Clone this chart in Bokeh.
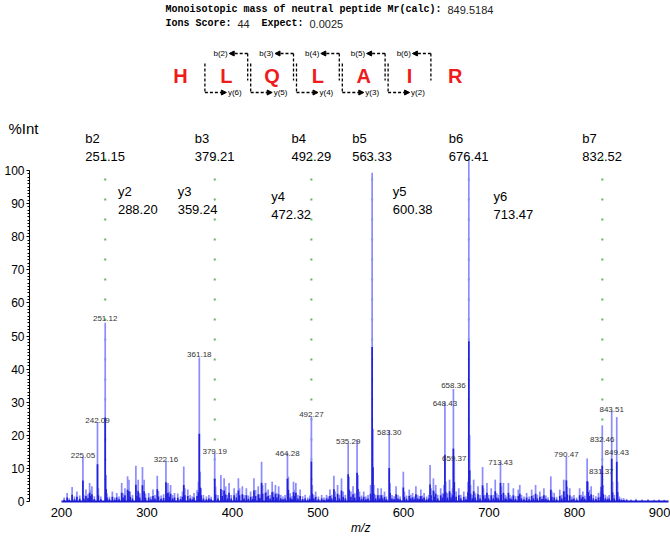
from bokeh.plotting import figure
from bokeh.models import Range1d, ColumnDataSource, Arrow, NormalHead, FixedTicker
from bokeh.embed import file_html
from bokeh.resources import INLINE
from bokeh.core.properties import value

# ---------------- data ----------------
peptide = ["H", "L", "Q", "L", "A", "I", "R"]
mr_calc = "849.5184"
ions_score = "44"
expect_value = "0.0025"
diagram_b = [2, 3, 4, 5, 6]
diagram_y = [6, 5, 4, 3, 2]

b_names = ["b2", "b3", "b4", "b5", "b6", "b7"]
b_mz = [251.15, 379.21, 492.29, 563.33, 676.41, 832.52]
y_names = ["y2", "y3", "y4", "y5", "y6"]
y_mz = [288.20, 359.24, 472.32, 600.38, 713.47]

scan_range = [200, 910]
x_ticks = [200, 300, 400, 500, 600, 700, 800, 900]
y_ticks = [0, 10, 20, 30, 40, 50, 60, 70, 80, 90, 100]

peak_mz = [203.1, 206.6, 209.0, 212.4, 215.2, 218.0, 221.3, 225.05, 226.1, 228.6, 231.0, 232.9, 234.0, 235.6,
           238.4, 242.09, 243.1, 246.0, 251.12, 252.1, 253.2, 256.0, 259.5, 262.2, 264.6, 267.3, 270.4, 272.0,
           274.2, 277.3, 278.9, 280.4, 283.0, 287.0, 288.2, 289.7, 291.5, 294.7, 296.6, 298.2, 302.0, 304.5,
           307.0, 309.3, 312.0, 313.4, 316.5, 319.4, 322.16, 323.2, 324.5, 326.0, 327.6, 330.0, 332.2, 336.0,
           339.3, 341.5, 343.0, 344.3, 347.7, 350.5, 353.0, 355.0, 358.6, 360.2, 361.18, 362.2, 363.3, 366.0,
           369.5, 372.4, 375.0, 379.19, 380.2, 383.0, 386.4, 388.0, 390.2, 392.0, 394.2, 396.0, 398.5, 401.9,
           404.5, 406.9, 408.2, 411.5, 413.5, 416.2, 418.5, 421.2, 423.5, 425.1, 427.0, 430.1, 432.0, 434.0,
           435.2, 438.6, 440.0, 441.7, 444.0, 446.4, 448.0, 450.2, 452.0, 454.0, 456.5, 459.0, 461.5, 464.28,
           465.3, 467.5, 469.5, 471.4, 472.3, 474.1, 476.5, 479.1, 482.0, 485.0, 488.0, 490.5, 492.27, 493.3,
           495.0, 497.3, 500.5, 504.3, 507.0, 510.0, 512.0, 514.0, 516.0, 518.6, 520.0, 522.9, 525.0, 527.5,
           529.5, 532.0, 535.29, 536.3, 538.5, 541.0, 543.0, 545.7, 546.7, 548.5, 551.0, 553.5, 556.0, 558.5,
           561.5, 563.33, 564.3, 565.3, 567.5, 570.0, 572.0, 573.9, 575.5, 577.8, 580.0, 583.30, 584.3, 586.5,
           589.0, 591.3, 593.5, 596.0, 599.8, 601.0, 603.5, 606.7, 608.5, 610.6, 612.5, 614.5, 616.5, 618.5,
           620.3, 622.0, 624.1, 627.0, 629.5, 631.1, 632.2, 635.0, 636.5, 637.7, 640.0, 643.5, 645.5, 647.4,
           648.43, 649.4, 651.5, 653.9, 655.5, 657.4, 658.36, 659.37, 661.5, 664.7, 667.0, 670.5, 673.0, 675.4,
           676.41, 677.4, 678.4, 680.5, 682.1, 684.0, 687.1, 689.5, 692.5, 693.5, 695.5, 697.6, 699.5, 702.6,
           705.0, 707.3, 709.0, 711.0, 713.43, 714.4, 716.9, 719.0, 720.5, 722.7, 724.5, 726.5, 728.5, 731.0,
           734.3, 736.0, 738.0, 741.0, 744.0, 747.0, 749.9, 752.0, 754.5, 756.5, 759.5, 762.0, 764.2, 766.5,
           769.0, 772.3, 773.5, 776.2, 779.0, 782.8, 785.0, 787.4, 788.6, 790.47, 791.5, 794.4, 797.0, 799.4,
           802.5, 806.0, 808.0, 809.8, 812.0, 814.8, 816.0, 817.5, 819.5, 822.0, 825.0, 828.0, 830.5, 831.37,
           832.46, 833.5, 836.0, 838.5, 840.5, 843.51, 844.5, 846.5, 849.43, 850.4, 852.5, 855.0, 857.6, 861.0,
           866.0, 872.0, 879.0, 886.0, 893.0, 899.0, 905.0]
peak_int = [1.2, 2.6, 1.0, 4.4, 1.5, 3.0, 1.8, 13.5, 2.0, 3.6, 2.2, 5.6, 3.5, 4.6,
            1.6, 24.0, 4.0, 1.5, 54.0, 8.0, 2.5, 1.4, 3.0, 1.2, 2.6, 1.5, 5.6, 2.5,
            4.0, 7.6, 6.6, 3.0, 2.0, 10.8, 3.5, 6.6, 2.5, 10.4, 6.6, 2.4, 2.6, 1.5,
            3.6, 2.0, 7.8, 3.2, 1.8, 2.2, 12.4, 5.0, 5.6, 3.0, 5.0, 2.0, 2.6, 2.4,
            1.6, 3.0, 10.6, 4.0, 3.6, 2.0, 1.5, 2.6, 3.5, 6.0, 43.5, 9.0, 4.0, 2.0,
            1.5, 2.0, 1.4, 14.7, 4.5, 2.0, 8.0, 3.5, 7.0, 4.5, 2.0, 5.6, 2.0, 4.0,
            2.5, 7.0, 4.0, 4.6, 2.0, 4.0, 1.8, 3.0, 1.6, 7.0, 3.5, 4.6, 2.2, 12.0,
            5.0, 5.6, 3.0, 3.6, 2.0, 6.0, 3.0, 5.0, 2.5, 4.6, 2.0, 1.5, 2.0, 14.7,
            7.5, 2.5, 1.6, 6.0, 3.5, 5.6, 2.0, 3.6, 1.6, 2.0, 1.2, 1.8, 25.7, 5.0,
            2.0, 3.0, 1.5, 2.0, 1.2, 2.0, 1.5, 3.6, 2.0, 7.8, 3.0, 5.0, 2.0, 7.0,
            3.0, 2.0, 17.5, 7.5, 3.0, 4.6, 2.5, 18.5, 8.0, 3.0, 1.8, 3.0, 1.5, 2.0,
            5.0, 99.3, 22.0, 5.0, 2.0, 4.0, 2.0, 4.0, 2.0, 3.0, 1.5, 21.5, 5.5, 2.0,
            1.6, 4.6, 2.0, 1.5, 9.0, 3.0, 1.8, 3.6, 2.0, 2.6, 1.5, 4.6, 2.0, 1.6,
            3.6, 1.8, 2.6, 1.5, 2.0, 11.0, 4.0, 7.0, 3.0, 5.0, 2.0, 4.0, 2.5, 5.0,
            30.0, 6.0, 2.5, 6.6, 2.5, 4.0, 34.0, 12.5, 3.0, 4.0, 2.0, 3.0, 1.5, 6.0,
            103.0, 20.0, 5.0, 2.0, 6.6, 2.5, 4.6, 2.0, 10.4, 4.0, 2.0, 5.6, 2.0, 4.0,
            2.0, 6.6, 2.5, 2.0, 12.0, 4.5, 5.6, 2.0, 1.5, 5.6, 2.0, 1.5, 4.0, 1.6,
            3.6, 5.0, 2.0, 1.5, 2.6, 1.5, 3.6, 2.0, 5.0, 2.0, 3.0, 1.6, 4.0, 1.8,
            1.2, 7.6, 3.0, 2.6, 1.4, 3.6, 2.0, 6.6, 3.0, 13.6, 4.5, 4.0, 1.5, 2.0,
            1.2, 4.0, 2.0, 3.0, 1.8, 13.0, 6.0, 3.5, 4.6, 2.0, 1.6, 2.6, 3.0, 9.5,
            23.0, 5.0, 2.0, 1.5, 2.0, 27.5, 6.0, 2.0, 25.5, 6.0, 1.5, 1.0, 1.0, 0.8,
            0.6, 0.8, 0.6, 0.7, 0.5, 0.6, 0.5]

label_text = ["225.05", "242.09", "251.12", "322.16", "361.18", "379.19", "464.28", "492.27", "535.29",
              "583.30", "648.43", "658.36", "659.37", "713.43", "790.47", "831.37", "832.46", "843.51", "849.43"]
label_mz = [225.05, 242.09, 251.12, 322.16, 361.18, 379.19, 464.28, 492.27, 535.29,
            583.30, 648.43, 658.36, 659.37, 713.43, 790.47, 831.37, 832.46, 843.51, 849.43]
label_int = [12.8, 23.4, 54.1, 11.5, 43.5, 14.0, 13.4, 25.2, 17.0,
             19.8, 28.6, 34.0, 11.9, 10.6, 13.0, 7.9, 17.6, 26.7, 13.7]

# ---------------- layout helpers (page pixels -> data) ----------------
W = 670
H = 539
PAGE_L, PAGE_T = 0, 0
PAGE_R, PAGE_B = PAGE_L + W, PAGE_T + H
FONT_NAME = "Liberation Sans"
FONT = value(FONT_NAME)
MONO = value("Liberation Mono")

RES_X0 = 180.0   # page x of the first residue
RES_DX = 45.8    # page px between residues

SX = 0.855       # px per m/z unit
X200 = 61.0      # page x of m/z 200
P0 = 501.0       # page y of 0 %
P100 = 170.0     # page y of 100 %
SY = (P0 - P100) / 100.0
def mx(px):
    return 200 + (px - X200) / SX
def my(py):
    return (P0 - py) / SY

p = figure(width=W, height=H, x_range=Range1d(mx(PAGE_L), mx(PAGE_R)),
           y_range=Range1d(my(PAGE_B), my(PAGE_T)),
           output_backend="svg", toolbar_location=None,
           min_border_top=0, min_border_right=0, min_border_left=0, min_border_bottom=0)
p.extra_x_ranges = {"px": Range1d(PAGE_L, PAGE_R)}
p.extra_y_ranges = {"py": Range1d(PAGE_B, PAGE_T)}
p.outline_line_color = None
p.grid.visible = False

# ---------------- header (page-pixel ranges) ----------------
CW = 6.0  # advance of a 10px Liberation Mono glyph
T0 = 165.0
line1_label = "Monoisotopic mass of neutral peptide Mr(calc):"
p.text(x=[T0], y=[9], text=[line1_label], x_range_name="px", y_range_name="py",
       text_font=MONO, text_font_style="bold", text_font_size="10px", text_align="left",
       text_baseline="middle", text_color="black")
p.text(x=[T0 + (len(line1_label) + 1) * CW], y=[9], text=[mr_calc], x_range_name="px", y_range_name="py",
       text_font=FONT, text_font_size="11px", text_align="left", text_baseline="middle", text_color="#222222")
l2_bold = ["Ions Score:", "Expect:"]
l2_bold_x = [T0, T0 + 16 * CW]
l2_val = [ions_score, expect_value]
l2_val_x = [T0 + 12 * CW, T0 + 24 * CW]
p.text(x=l2_bold_x, y=[23, 23], text=l2_bold, x_range_name="px", y_range_name="py",
       text_font=MONO, text_font_style="bold", text_font_size="10px", text_align="left",
       text_baseline="middle", text_color="black")
p.text(x=l2_val_x, y=[23, 23], text=l2_val, x_range_name="px", y_range_name="py",
       text_font=FONT, text_font_size="11px", text_align="left", text_baseline="middle", text_color="#222222")

res_x = [RES_X0 + i * RES_DX for i in range(len(peptide))]
p.text(x=res_x, y=[75] * len(peptide), text=peptide, x_range_name="px", y_range_name="py",
       text_color="#ee1c1c", text_font=FONT, text_font_size="20px", text_font_style="bold",
       text_align="center", text_baseline="middle")

b_cut = [RES_X0 + (k - 0.5) * RES_DX for k in diagram_b]
y_cut = [RES_X0 + (6.5 - m) * RES_DX for m in diagram_y]

p.segment(x0=[c - 1.5 for c in b_cut], y0=[53] * len(b_cut), x1=[c - 1.5 for c in b_cut],
          y1=[80] * len(b_cut), x_range_name="px", y_range_name="py",
          line_color="black", line_width=1.3, line_dash="3 2")
p.segment(x0=[c + 1.5 for c in y_cut], y0=[63] * len(y_cut), x1=[c + 1.5 for c in y_cut],
          y1=[92] * len(y_cut), x_range_name="px", y_range_name="py",
          line_color="black", line_width=1.3, line_dash="3 2")

b_arrow_src = ColumnDataSource(dict(xs=[c - 1.5 for c in b_cut], ys=[53] * len(b_cut),
                                    xe=[c - 20 for c in b_cut], ye=[53] * len(b_cut)))
p.add_layout(Arrow(end=NormalHead(size=5, fill_color="black", line_color="black"),
                   x_start="xs", y_start="ys", x_end="xe", y_end="ye", source=b_arrow_src,
                   x_range_name="px", y_range_name="py",
                   line_color="black", line_width=1.3, line_dash="3 2"))
y_arrow_src = ColumnDataSource(dict(xs=[c + 1.5 for c in y_cut], ys=[92] * len(y_cut),
                                    xe=[c + 23 for c in y_cut], ye=[92] * len(y_cut)))
p.add_layout(Arrow(end=NormalHead(size=5, fill_color="black", line_color="black"),
                   x_start="xs", y_start="ys", x_end="xe", y_end="ye", source=y_arrow_src,
                   x_range_name="px", y_range_name="py",
                   line_color="black", line_width=1.3, line_dash="3 2"))

p.text(x=[c - 21.5 for c in b_cut], y=[53] * len(b_cut), text=[f"b({k})" for k in diagram_b],
       x_range_name="px", y_range_name="py",
       text_font=FONT, text_font_size="8px", text_align="right", text_baseline="middle", text_color="black")
p.text(x=[c + 24.5 for c in y_cut], y=[92] * len(y_cut), text=[f"y({m})" for m in diagram_y],
       x_range_name="px", y_range_name="py",
       text_font=FONT, text_font_size="8px", text_align="left", text_baseline="middle", text_color="black")

# ---------------- spectrum ----------------
p.segment(x0=b_mz, y0=[my(158)] * len(b_mz), x1=b_mz, y1=[0] * len(b_mz),
          line_color="#5cb85c", line_width=2, line_dash="2 18")

spec = ColumnDataSource(dict(mz=peak_mz, inten=peak_int, dark=[v * 0.47 for v in peak_int],
                             zero=[0] * len(peak_mz)))
p.segment(x0="mz", y0="zero", x1="mz", y1="inten", source=spec, line_color="#8c8cff", line_width=1.7)
p.segment(x0="mz", y0="zero", x1="mz", y1="dark", source=spec, line_color="#2222dd", line_width=1.7)
p.segment(x0=[scan_range[0]], y0=[0], x1=[scan_range[1]], y1=[0], line_color="#1a1acc", line_width=2)

p.text(x=label_mz, y=label_int, text=label_text, text_font=FONT, text_font_size="8px",
       text_color="#333333", text_align="center", text_baseline="bottom", y_offset=-1)

b_lab = ColumnDataSource(dict(x=b_mz, y=[my(130)] * len(b_mz),
                              t=[f"{n}\n{m:.2f}" for n, m in zip(b_names, b_mz)]))
p.text(x="x", y="y", text="t", source=b_lab, x_offset=-20, text_font=FONT, text_font_size="13px",
       text_align="left", text_baseline="top", text_color="black", text_line_height=1.2)

y_dx = [-19, -20, -23, -11, -7]
y_dy = [0, 0, 5, 0, 5]
y_lab = ColumnDataSource(dict(x=y_mz, y=[my(183)] * len(y_mz), dx=y_dx, dy=y_dy,
                              t=[f"{n}\n{m:.2f}" for n, m in zip(y_names, y_mz)]))
p.text(x="x", y="y", text="t", source=y_lab, x_offset="dx", y_offset="dy", text_font=FONT,
       text_font_size="13px", text_align="left", text_baseline="top", text_color="black",
       text_line_height=1.2)

p.text(x=[mx(8)], y=[my(128)], text=["%Int"], text_font=FONT, text_font_size="15px",
       text_baseline="middle", text_align="left", text_color="black")

# x-axis title drawn centred under the tick span
p.text(x=[(x_ticks[0] + x_ticks[-1]) / 2], y=[my(527)], text=["m/z"], text_font=FONT,
       text_font_style="italic", text_font_size="12px", text_align="center", text_baseline="middle",
       text_color="black")

# ---------------- axes (pinned inside the frame) ----------------
p.xaxis.fixed_location = 0
p.xaxis.ticker = FixedTicker(ticks=x_ticks)
p.xaxis.axis_line_color = None
p.xaxis.major_tick_line_color = None
p.xaxis.minor_tick_line_color = None
p.xaxis.major_tick_out = 0
p.xaxis.minor_tick_out = 0
p.xaxis.major_label_text_font = FONT_NAME
p.xaxis.major_label_text_font_size = "13px"
p.xaxis.major_label_text_color = "black"
p.xaxis.major_label_standoff = 6

p.yaxis.fixed_location = mx(29)
p.yaxis.ticker = FixedTicker(ticks=y_ticks, minor_ticks=list(range(0, 101)))
p.yaxis.bounds = (0, 100)
p.yaxis.axis_line_color = "black"
p.yaxis.major_tick_out = 3
p.yaxis.major_tick_in = 0
p.yaxis.minor_tick_out = 2
p.yaxis.minor_tick_in = 0
p.yaxis.major_tick_line_color = "black"
p.yaxis.minor_tick_line_color = "black"
p.yaxis.major_label_text_font = FONT_NAME
p.yaxis.major_label_text_font_size = "12px"
p.yaxis.major_label_text_color = "black"
p.yaxis.major_label_standoff = 2

open("out.html", "w").write(file_html(p, INLINE))
